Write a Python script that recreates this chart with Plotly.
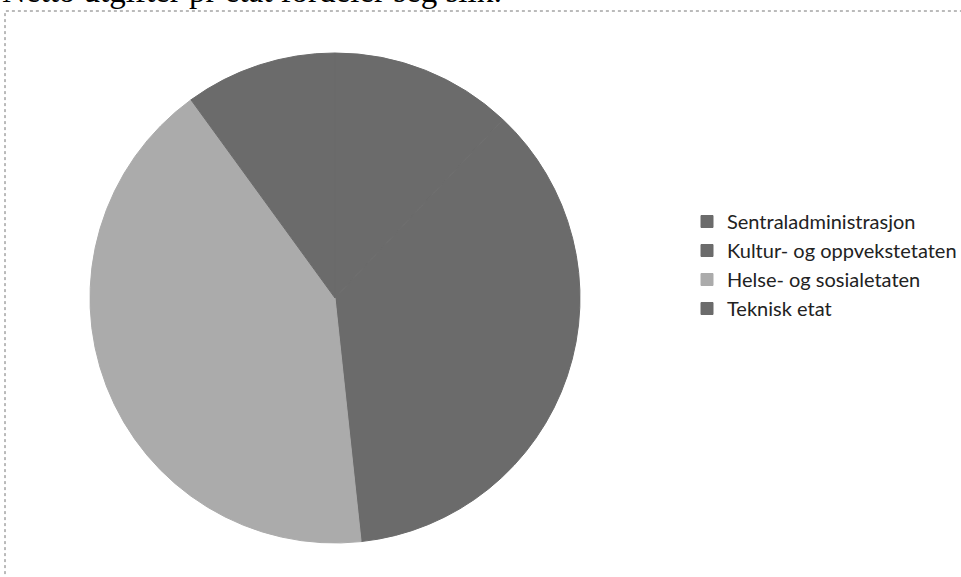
import plotly.graph_objects as go

categories = ["Sentraladministrasjon", "Kultur- og oppvekstetaten", "Helse- og sosialetaten", "Teknisk etat"]
values = [12.0, 36.3, 41.7, 10.0]
colors = ["#6b6b6b", "#6b6b6b", "#ababab", "#6b6b6b"]

W, H = 961, 577
cx, cy, r = 335, 298, 245

fig = go.Figure(go.Pie(
    labels=categories,
    values=values,
    sort=False,
    direction="clockwise",
    rotation=0,
    marker=dict(colors=colors, line=dict(width=1, color=colors)),
    textinfo="none",
    hoverinfo="label+percent",
    domain=dict(x=[(cx - r) / W, (cx + r) / W], y=[1 - (cy + r) / H, 1 - (cy - r) / H]),
))

fig.update_layout(
    width=W, height=H,
    margin=dict(l=0, r=0, t=0, b=0, autoexpand=False),
    paper_bgcolor="white", plot_bgcolor="white",
    showlegend=True,
    legend=dict(
        x=687 / W, y=1 - 202 / H, xanchor="left", yanchor="top",
        font=dict(family="Lato, Open Sans, sans-serif", size=20, color="#222"),
        tracegroupgap=0, itemwidth=30,
        bgcolor="rgba(0,0,0,0)",
    ),
    annotations=[dict(
        text="Netto utgifter pr etat fordeler seg slik:",
        x=0, y=1 - 11 / H, xref="paper", yref="paper",
        xanchor="left", yanchor="bottom", showarrow=False,
        font=dict(family="Liberation Serif, serif", size=33, color="black"),
    )],
    shapes=[dict(
        type="rect", xref="paper", yref="paper",
        x0=5 / W, x1=1.1, y0=-0.1, y1=1 - 11 / H,
        line=dict(color="#777", width=1, dash="dot"),
    )],
)

fig.write_html("out.html", config={"displayModeBar": False},
               post_script="document.body.style.margin='0';")
